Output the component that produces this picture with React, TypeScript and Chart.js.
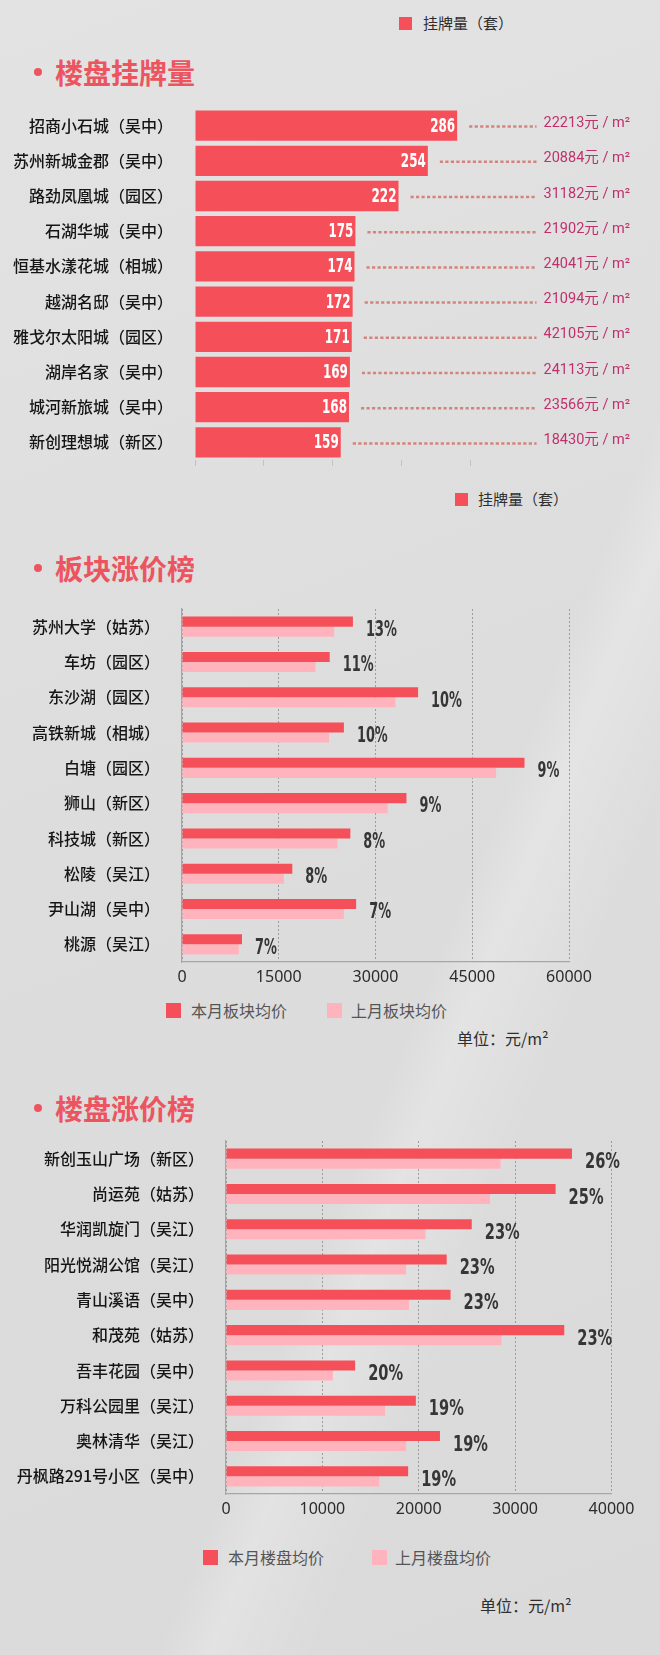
import { useRef, useEffect } from "react";
import Chart from "chart.js/auto";

// 楼盘挂牌量
const listingNames = [
  "招商小石城（吴中）",
  "苏州新城金郡（吴中）",
  "路劲凤凰城（园区）",
  "石湖华城（吴中）",
  "恒基水漾花城（相城）",
  "越湖名邸（吴中）",
  "雅戈尔太阳城（园区）",
  "湖岸名家（吴中）",
  "城河新旅城（吴中）",
  "新创理想城（新区）",
];
const listingCounts = [286, 254, 222, 175, 174, 172, 171, 169, 168, 159];
const listingPrices = ["22213", "20884", "31182", "21902", "24041", "21094", "42105", "24113", "23566", "18430"];
const listingAxis = { max: 300, step: 75 };

// 板块涨价榜
const districtNames = [
  "苏州大学（姑苏）",
  "车坊（园区）",
  "东沙湖（园区）",
  "高铁新城（相城）",
  "白塘（园区）",
  "狮山（新区）",
  "科技城（新区）",
  "松陵（吴江）",
  "尹山湖（吴中）",
  "桃源（吴江）",
];
const districtThisMonth = [26500, 22900, 36600, 25100, 53100, 34800, 26100, 17100, 27000, 9300];
const districtLastMonth = [23600, 20700, 33100, 22800, 48700, 31900, 24100, 15800, 25100, 8800];
const districtRise = ["13%", "11%", "10%", "10%", "9%", "9%", "8%", "8%", "7%", "7%"];
const districtAxis = { max: 60000, step: 15000 };

// 楼盘涨价榜
const projectNames = [
  "新创玉山广场（新区）",
  "尚运苑（姑苏）",
  "华润凯旋门（吴江）",
  "阳光悦湖公馆（吴江）",
  "青山溪语（吴中）",
  "和茂苑（姑苏）",
  "吾丰花园（吴中）",
  "万科公园里（吴江）",
  "奥林清华（吴江）",
  "丹枫路291号小区（吴中）",
];
const projectThisMonth = [35900, 34200, 25500, 22900, 23300, 35100, 13400, 19700, 22200, 18900];
const projectLastMonth = [28500, 27400, 20700, 18700, 19000, 28600, 11100, 16500, 18700, 15900];
const projectRise = ["26%", "25%", "23%", "23%", "23%", "23%", "20%", "19%", "19%", "19%"];
const projectAxis = { max: 40000, step: 10000 };

const RED = "#f5505a";
const PINK = "#ffb4bd";
const TITLE_RED = "#ec5560";
const CJK = "'Noto Sans CJK SC', sans-serif";
const HEAVY = "'DejaVu Sans', sans-serif";

// draws text squeezed horizontally, to mimic the condensed bold face
function drawSquashed(ctx: CanvasRenderingContext2D, text: string, x: number, y: number, font: string, color: string, sx: number, align: "left" | "right") {
  ctx.save();
  ctx.font = font;
  ctx.fillStyle = color;
  ctx.textBaseline = "middle";
  ctx.textAlign = "left";
  const w = ctx.measureText(text).width * sx;
  ctx.translate(align === "right" ? x - w : x, y);
  ctx.scale(sx, 1);
  ctx.fillText(text, 0, 0);
  ctx.restore();
}

const listingPlugin = {
  id: "listingPlugin",
  afterDatasetsDraw(chart: any) {
    const ctx = chart.ctx as CanvasRenderingContext2D;
    const right = chart.width - 30;
    chart.getDatasetMeta(0).data.forEach((bar: any, i: number) => {
      const x = bar.x;
      const y = bar.y;
      drawSquashed(ctx, String(listingCounts[i]), x - 2, y + 1, `bold 19px ${HEAVY}`, "#ffffff", 0.63, "right");
      ctx.save();
      ctx.font = "14.5px Roboto, 'Noto Sans CJK SC'";
      const txt = listingPrices[i] + "元 / m²";
      const tw = ctx.measureText(txt).width;
      ctx.fillStyle = "#c0306c";
      ctx.textBaseline = "middle";
      ctx.textAlign = "right";
      ctx.fillText(txt, right, y - 2);
      ctx.strokeStyle = "#d3847c";
      ctx.lineWidth = 2.5;
      ctx.setLineDash([3.2, 2.3]);
      ctx.beginPath();
      ctx.moveTo(x + 12, y + 1);
      ctx.lineTo(right - tw - 7, y + 1);
      ctx.stroke();
      ctx.restore();
    });
  },
};

function risePlugin(rises: string[], fontPx: number, sx: number) {
  return {
    id: "risePlugin",
    afterDatasetsDraw(chart: any) {
      const ctx = chart.ctx as CanvasRenderingContext2D;
      const cur = chart.getDatasetMeta(0).data;
      const prev = chart.getDatasetMeta(1).data;
      cur.forEach((bar: any, i: number) => {
        const x = Math.max(bar.x, prev[i].x) + 13;
        const y = (bar.y + prev[i].y) / 2 + 4;
        drawSquashed(ctx, rises[i], x, y, `bold ${fontPx}px ${HEAVY}`, "#363636", sx, "left");
      });
    },
  };
}

function ChartCanvas({ top, height, build }: { top: number; height: number; build: () => any }) {
  const ref = useRef<HTMLCanvasElement | null>(null);
  const chartRef = useRef<Chart | null>(null);

  useEffect(() => {
    if (ref.current) {
      if (chartRef.current) chartRef.current.destroy();
      chartRef.current = new Chart(ref.current, build());
    }
    return () => {
      if (chartRef.current) {
        chartRef.current.destroy();
        chartRef.current = null;
      }
    };
  }, []);

  return (
    <canvas
      ref={ref}
      width={660}
      height={height}
      style={{ position: "absolute", left: 0, top, width: 660, height }}
    />
  );
}

// fix axis size and drop the label overhang padding so the chart area stays where we want it
function fixSize(w: number | null, h: number | null) {
  return (s: any) => {
    if (w !== null) s.width = w;
    if (h !== null) s.height = h;
    s.paddingTop = 0;
    s.paddingBottom = 0;
    s.paddingLeft = 0;
    s.paddingRight = 0;
  };
}

function listingConfig() {
  return {
    type: "bar",
    data: {
      labels: listingNames,
      datasets: [
        {
          label: "挂牌量（套）",
          data: listingCounts,
          backgroundColor: RED,
          categoryPercentage: 0.86,
          barPercentage: 1,
        },
      ],
    },
    options: {
      indexAxis: "y",
      responsive: false,
      animation: false,
      layout: { padding: { left: 0, right: 190, top: 8, bottom: 0 } },
      plugins: { legend: { display: false }, tooltip: { enabled: false } },
      scales: {
        x: {
          min: 0,
          max: listingAxis.max,
          ticks: { stepSize: listingAxis.step, display: false },
          grid: { drawOnChartArea: false, drawTicks: true, tickLength: 6, color: "#c2c2c2" },
          border: { display: false },
          afterFit: fixSize(null, 20),
        },
        y: {
          ticks: { color: "#151515", padding: 22, font: { family: CJK, size: 16, weight: "500" } },
          grid: { display: false, drawTicks: false },
          border: { display: false },
          afterFit: fixSize(195, null),
        },
      },
    },
    plugins: [listingPlugin],
  };
}

function compareConfig(
  names: string[],
  cur: number[],
  prev: number[],
  curLabel: string,
  prevLabel: string,
  axis: { max: number; step: number },
  left: number,
  right: number,
  padTop: number,
  rises: string[],
  riseFont: number,
  riseScale: number
) {
  return {
    type: "bar",
    data: {
      labels: names,
      datasets: [
        { label: curLabel, data: cur, backgroundColor: RED, categoryPercentage: 0.57, barPercentage: 1 },
        { label: prevLabel, data: prev, backgroundColor: PINK, categoryPercentage: 0.57, barPercentage: 1 },
      ],
    },
    options: {
      indexAxis: "y",
      responsive: false,
      animation: false,
      layout: { padding: { left: 0, right: 660 - right, top: padTop, bottom: 0 } },
      plugins: { legend: { display: false }, tooltip: { enabled: false } },
      scales: {
        x: {
          min: 0,
          max: axis.max,
          ticks: {
            stepSize: axis.step,
            padding: 6,
            color: "#2b2b2b",
            font: { family: "'Noto Sans', sans-serif", size: 16 },
            callback: (v: any) => String(v),
          },
          grid: { color: "#9c9c9c", lineWidth: 1, drawTicks: false },
          border: { display: true, color: "#a6a6a6", width: 1.2, dash: [2, 2] },
          afterFit: fixSize(null, 28),
        },
        y: {
          ticks: { color: "#151515", padding: 22, font: { family: CJK, size: 16, weight: "500" } },
          grid: { display: false, drawTicks: false },
          border: { display: true, color: "#a6a6a6", width: 1.2 },
          afterFit: fixSize(left, null),
        },
      },
    },
    plugins: [risePlugin(rises, riseFont, riseScale)],
  };
}

function Title({ text, y }: { text: string; y: number }) {
  return (
    <div style={{ position: "absolute", left: 0, top: y - 16, height: 32, width: 400 }}>
      <div
        style={{
          position: "absolute",
          left: 34,
          top: 12,
          width: 8,
          height: 8,
          borderRadius: 4,
          background: TITLE_RED,
        }}
      />
      <div
        style={{
          position: "absolute",
          left: 55,
          top: 0,
          lineHeight: "32px",
          fontSize: 28,
          fontWeight: 700,
          color: TITLE_RED,
          fontFamily: CJK,
          whiteSpace: "nowrap",
        }}
      >
        {text}
      </div>
    </div>
  );
}

function Swatch({ x, y, color, size, text, textX, fontSize, textColor }: any) {
  return (
    <>
      <div
        style={{ position: "absolute", left: x, top: y - size / 2, width: size, height: size, background: color }}
      />
      <div
        style={{
          position: "absolute",
          left: textX,
          top: y - 12,
          lineHeight: "24px",
          fontSize,
          color: textColor,
          fontFamily: CJK,
          whiteSpace: "nowrap",
        }}
      >
        {text}
      </div>
    </>
  );
}

function Unit({ x, y }: { x: number; y: number }) {
  return (
    <div
      style={{
        position: "absolute",
        left: x,
        top: y - 12,
        lineHeight: "24px",
        fontSize: 16,
        color: "#2e2e2e",
        fontFamily: CJK,
        whiteSpace: "nowrap",
      }}
    >
      单位：元/m²
    </div>
  );
}

export default function App() {
  return (
    <div
      style={{
        position: "absolute",
        left: 0,
        top: 0,
        width: 660,
        height: 1655,
        overflow: "hidden",
        fontFamily: CJK,
        background:
          "linear-gradient(112deg, rgba(255,255,255,0) 62%, rgba(255,255,255,0.22) 66%, rgba(255,255,255,0) 74%), linear-gradient(160deg, #e3e3e3 0%, #dddddd 45%, #dadada 100%)",
      }}
    >
      <Swatch x={399} y={23} size={13} color={RED} text="挂牌量（套）" textX={423} fontSize={15} textColor="#2e2e2e" />
      <Title text="楼盘挂牌量" y={72} />
      <ChartCanvas top={100} height={380} build={listingConfig} />
      <Swatch x={455} y={499} size={13} color={RED} text="挂牌量（套）" textX={478} fontSize={15} textColor="#2e2e2e" />

      <Title text="板块涨价榜" y={568} />
      <ChartCanvas
        top={600}
        height={390}
        build={() =>
          compareConfig(districtNames, districtThisMonth, districtLastMonth, "本月板块均价", "上月板块均价", districtAxis, 182, 569, 9, districtRise, 20.5, 0.63)
        }
      />
      <Swatch x={166} y={1010} size={15} color={RED} text="本月板块均价" textX={191} fontSize={16} textColor="#555555" />
      <Swatch x={327} y={1010} size={15} color={PINK} text="上月板块均价" textX={351} fontSize={16} textColor="#555555" />
      <Unit x={457} y={1038} />

      <Title text="楼盘涨价榜" y={1108} />
      <ChartCanvas
        top={1130}
        height={392}
        build={() =>
          compareConfig(projectNames, projectThisMonth, projectLastMonth, "本月楼盘均价", "上月楼盘均价", projectAxis, 226, 611.5, 11, projectRise, 21.5, 0.68)
        }
      />
      <Swatch x={203} y={1557} size={15} color={RED} text="本月楼盘均价" textX={228} fontSize={16} textColor="#555555" />
      <Swatch x={372} y={1557} size={15} color={PINK} text="上月楼盘均价" textX={395} fontSize={16} textColor="#555555" />
      <Unit x={480} y={1605} />
    </div>
  );
}
